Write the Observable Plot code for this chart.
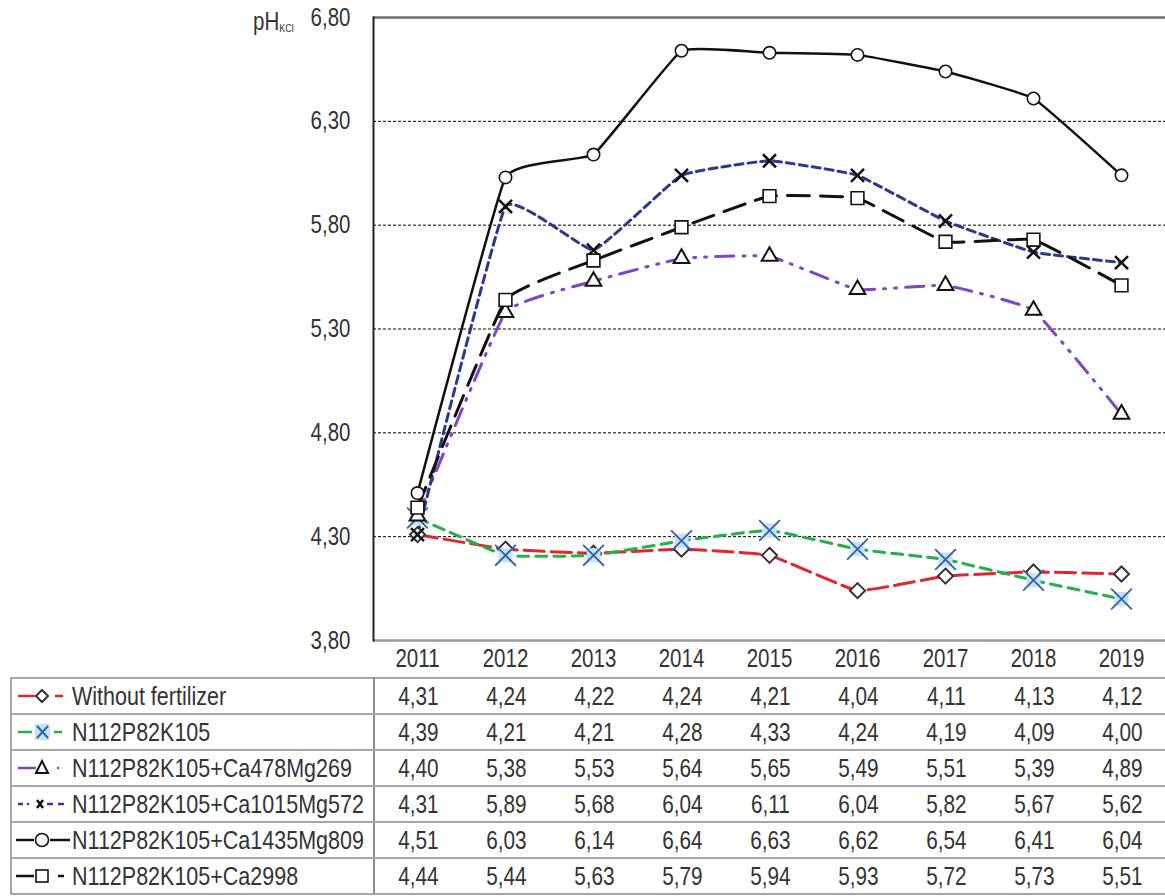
<!DOCTYPE html>
<html>
<head>
<meta charset="utf-8">
<script src="https://cdn.jsdelivr.net/npm/d3@7"></script>
<script src="https://cdn.jsdelivr.net/npm/@observablehq/plot@0.6"></script>
<style>
  body { margin: 0; background: #fff; }
  #wrap { position: relative; width: 1165px; height: 896px; overflow: hidden; font-family: "Liberation Sans", Arial, sans-serif; color: #333; }
  #chart { position: absolute; left: 0; top: 0; }
  #ylab { position: absolute; left: 253px; top: 7px; font-size: 25px; color: #333; transform: scaleX(0.82); transform-origin: left center; }
  #ylab sub { font-size: 11px; vertical-align: -2px; }
  table { position: absolute; left: 10px; top: 677px; width: 1155px; border-collapse: collapse; table-layout: fixed; font-size: 25px; color: #333; }
  td { height: 34px; padding: 0; border-top: 2px solid #a6a6a6; border-bottom: 2px solid #a6a6a6; text-align: center; white-space: nowrap; overflow: visible; }
  td span { display: inline-block; transform: scaleX(0.83); }
  td.lab { position: relative; text-align: left; padding-left: 60px; border-left: 2px solid #a6a6a6; border-right: 2px solid #8c8c8c; }
  td.lab span { transform: scaleX(0.86); transform-origin: left center; }
  td.lab svg { position: absolute; left: 0; top: 0; }
</style>
</head>
<body>
<div id="wrap">
  <div id="chart"></div>
  <div id="ylab">pH<sub>KCl</sub></div>
  <table id="tbl"></table>
</div>
<script>
const years = ["2011","2012","2013","2014","2015","2016","2017","2018","2019"];
const seriesNames = [
  "Without fertilizer",
  "N112P82K105",
  "N112P82K105+Ca478Mg269",
  "N112P82K105+Ca1015Mg572",
  "N112P82K105+Ca1435Mg809",
  "N112P82K105+Ca2998"
];
const withoutFertilizer = [4.31, 4.24, 4.22, 4.24, 4.21, 4.04, 4.11, 4.13, 4.12];
const npk = [4.39, 4.21, 4.21, 4.28, 4.33, 4.24, 4.19, 4.09, 4.00];
const npkCa478 = [4.40, 5.38, 5.53, 5.64, 5.65, 5.49, 5.51, 5.39, 4.89];
const npkCa1015 = [4.31, 5.89, 5.68, 6.04, 6.11, 6.04, 5.82, 5.67, 5.62];
const npkCa1435 = [4.51, 6.03, 6.14, 6.64, 6.63, 6.62, 6.54, 6.41, 6.04];
const npkCa2998 = [4.44, 5.44, 5.63, 5.79, 5.94, 5.93, 5.72, 5.73, 5.51];
const yTicks = [3.8, 4.3, 4.8, 5.3, 5.8, 6.3, 6.8];
const gridTicks = [4.3, 4.8, 5.3, 5.8, 6.3];

const allValues = [withoutFertilizer, npk, npkCa478, npkCa1015, npkCa1435, npkCa2998];
const styles = [
  {stroke: "#e0262e", dash: "20,7", width: 3},
  {stroke: "#25b04b", dash: "11,7", width: 3},
  {stroke: "#8145c2", dash: "18,9,2,9,2,9", width: 3},
  {stroke: "#2d3a8c", dash: "8,5", width: 3},
  {stroke: "#111111", dash: null, width: 2.5},
  {stroke: "#111111", dash: "22,11", width: 3}
];
const rows = seriesNames.map((name, i) => years.map((yr, j) => ({series: name, year: yr, value: allValues[i][j]})));
const fmt = v => v.toFixed(2).replace(".", ",");
const smooth = d3.curveCardinal.tension(0.7);

const marks = [
  Plot.ruleY(gridTicks, {stroke: "#000", strokeWidth: 1, strokeDasharray: "3,2"}),
  Plot.ruleY([6.8], {stroke: "#6e6e6e", strokeWidth: 2.5}),
  Plot.ruleY([3.8], {stroke: "#9a9a9a", strokeWidth: 2.5}),
  Plot.frame({anchor: "left", stroke: "#222", strokeWidth: 2}),
  Plot.axisY({ticks: yTicks, tickFormat: fmt, tickSize: 0, tickPadding: 23, fontSize: 25, label: null}),
  Plot.axisX({tickSize: 0, tickPadding: 9, fontSize: 25, label: null})
];
rows.forEach((d, i) => {
  const s = styles[i];
  marks.push(Plot.line(d, {x: "year", y: "value", stroke: s.stroke, strokeWidth: s.width, strokeDasharray: s.dash, curve: smooth}));
});
// markers
marks.push(Plot.dot(rows[0], {x: "year", y: "value", symbol: "diamond2", r: 6.8, fill: "#fff", stroke: "#333", strokeWidth: 2}));
marks.push(Plot.dot(rows[1], {x: "year", y: "value", symbol: "square", r: 8, fill: "#c3e3f8", stroke: "none"}));
marks.push(Plot.dot(rows[1], {x: "year", y: "value", symbol: "times", r: 9.5, fill: "none", stroke: "#3a5ea6", strokeWidth: 1.8}));
marks.push(Plot.dot(rows[2], {x: "year", y: "value", symbol: "triangle", r: 5.8, fill: "#fff", stroke: "#111", strokeWidth: 2}));
marks.push(Plot.dot(rows[3], {x: "year", y: "value", symbol: "times", r: 6, fill: "none", stroke: "#111", strokeWidth: 2.5}));
marks.push(Plot.dot(rows[4], {x: "year", y: "value", r: 6.2, fill: "#fff", stroke: "#111", strokeWidth: 1.6}));
marks.push(Plot.dot(rows[5], {x: "year", y: "value", symbol: "square", r: 7.2, fill: "#fff", stroke: "#111", strokeWidth: 1.6}));

const chart = Plot.plot({
  width: 1165,
  height: 677,
  marginLeft: 373,
  marginRight: 0,
  marginTop: 17,
  marginBottom: 37,
  style: {fontFamily: "'Liberation Sans', Arial, sans-serif", fontSize: "25px", color: "#333", background: "transparent", overflow: "visible"},
  x: {type: "point", domain: years, padding: 0.5},
  y: {domain: [3.8, 6.8]},
  marks
});
document.getElementById("chart").appendChild(chart);
// condense the axis text (narrow font look)
chart.querySelectorAll("text").forEach(t => {
  const L = t.getComputedTextLength();
  if (L > 0) {
    t.setAttribute("textLength", (L * 0.82).toFixed(1));
    t.setAttribute("lengthAdjust", "spacingAndGlyphs");
  }
});

// legend swatches (table keys)
const ns = "http://www.w3.org/2000/svg";
function swatch(i) {
  const s = styles[i];
  const line = (x1, x2, w) => `<line x1="${x1}" x2="${x2}" y1="17" y2="17" stroke="${s.stroke}" stroke-width="${w || 2.5}"/>`;
  let inner = "";
  if (i === 0) inner = line(6, 23) + line(43, 51) + `<path d="M30 11 L36 17 L30 23 L24 17Z" fill="#fff" stroke="#333" stroke-width="2"/>`;
  if (i === 1) inner = line(6, 20) + line(42, 50) + `<rect x="23" y="9" width="15" height="16" fill="#c3e3f8"/><path d="M25 11 L36 23 M36 11 L25 23" stroke="#3a5ea6" stroke-width="2"/>`;
  if (i === 2) inner = line(6, 24) + `<circle cx="46" cy="17" r="1.3" fill="${s.stroke}"/>` + `<path d="M30 10 L36 22 L24 22Z" fill="#fff" stroke="#111" stroke-width="2"/>`;
  if (i === 3) inner = line(6, 11) + `<circle cx="16" cy="17" r="1.3" fill="${s.stroke}"/>` + line(35, 41) + line(46, 52) + `<path d="M25 13 L31 21 M31 13 L25 21" stroke="#111" stroke-width="2.5"/>`;
  if (i === 4) inner = line(4, 22) + line(38, 58) + `<circle cx="30" cy="17" r="6.5" fill="#fff" stroke="#111" stroke-width="1.6"/>`;
  if (i === 5) inner = line(4, 22) + line(46, 52) + `<rect x="24" y="11" width="12" height="12" fill="#fff" stroke="#111" stroke-width="1.6"/>`;
  return `<svg xmlns="${ns}" width="60" height="34">${inner}</svg>`;
}

const tbl = document.getElementById("tbl");
let html = `<colgroup><col style="width:363px">${years.map(() => '<col style="width:88px">').join("")}</colgroup>`;
seriesNames.forEach((name, i) => {
  html += `<tr><td class="lab">${swatch(i)}<span>${name}</span></td>${allValues[i].map(v => `<td><span>${fmt(v)}</span></td>`).join("")}</tr>`;
});
tbl.innerHTML = html;
</script>
</body>
</html>
